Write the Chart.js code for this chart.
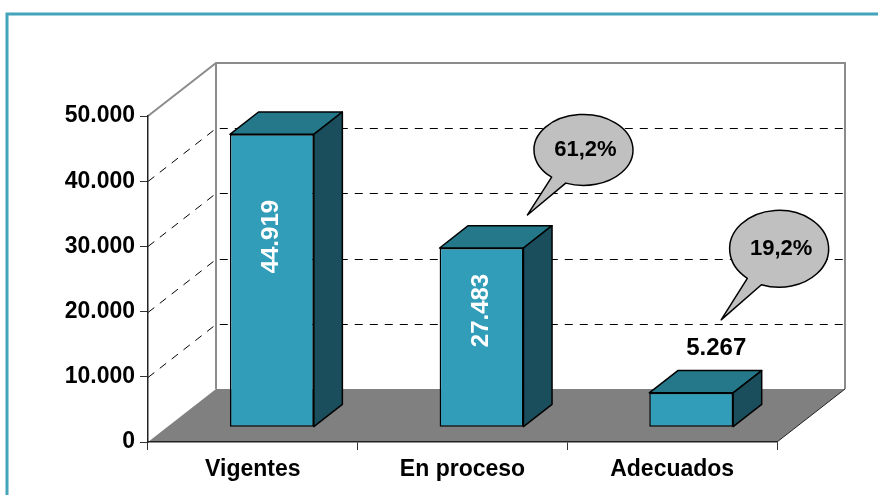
<!DOCTYPE html>
<html>
<head>
<meta charset="utf-8">
<script src="https://cdn.jsdelivr.net/npm/chart.js@4"></script>
<style>
  html, body { margin: 0; padding: 0; background: #fff; }
  #wrap { width: 878px; height: 495px; position: relative; }
</style>
</head>
<body>
<div id="wrap"><canvas id="chart" width="878" height="495"></canvas></div>
<script>
// datos
const categories = ['Vigentes', 'En proceso', 'Adecuados'];
const values = [44919, 27483, 5267];
const percentLabels = [null, '61,2%', '19,2%'];
const yTicks = [0, 10000, 20000, 30000, 40000, 50000];

const FONT = "'Liberation Sans', Arial, sans-serif";
const DX = 68, DY = 53;          // profundidad del piso
const Z0 = 0.28, Z1 = 0.70;      // posición de las barras en la profundidad
const FRONT = '#319DB8', TOP = '#25788A', SIDE = '#1A4E5C';

// globos (desplazamientos respecto a la esquina superior derecha de la barra)
const callouts = [
  null,
  { tip: [4, -33], c: [60, -98], rx: 49.5, ry: 35.5 },
  { tip: [-12, -73], c: [46, -144], rx: 49.5, ry: 38.5 }
];

const fmt = (n) => String(n).replace(/\B(?=(\d{3})+(?!\d))/g, '.');

const box3d = {
  id: 'box3d',
  beforeDraw(chart) {
    const ctx = chart.ctx;
    const { left: L, right: R, top: T, bottom: B } = chart.chartArea;
    const yScale = chart.scales.y;
    ctx.save();
    // marco
    ctx.strokeStyle = '#45A4BC';
    ctx.lineWidth = 3;
    ctx.strokeRect(7, 14, 900, 600);

    // líneas de división (pared lateral y pared del fondo)
    ctx.strokeStyle = '#000';
    ctx.lineWidth = 1;
    ctx.setLineDash([8, 7]);
    yTicks.slice(1, -1).forEach(v => {
      const y = Math.round(yScale.getPixelForValue(v)) + 0.5;
      ctx.beginPath();
      ctx.moveTo(L, y);
      ctx.lineTo(L + DX, y - DY);
      ctx.lineTo(R + DX, y - DY);
      ctx.stroke();
    });
    ctx.setLineDash([]);

    // paredes
    ctx.strokeStyle = '#8C8C8C';
    ctx.lineWidth = 2;
    ctx.beginPath();
    ctx.moveTo(L, T);
    ctx.lineTo(L + DX, T - DY);
    ctx.lineTo(R + DX, T - DY);
    ctx.lineTo(R + DX, B - DY);
    ctx.moveTo(L + DX, T - DY);
    ctx.lineTo(L + DX, B - DY);
    ctx.stroke();

    // piso
    ctx.fillStyle = '#808080';
    ctx.beginPath();
    ctx.moveTo(L, B);
    ctx.lineTo(R, B);
    ctx.lineTo(R + DX, B - DY);
    ctx.lineTo(L + DX, B - DY);
    ctx.closePath();
    ctx.fill();
    ctx.strokeStyle = '#222';
    ctx.lineWidth = 1;
    ctx.beginPath();
    ctx.moveTo(R, B);
    ctx.lineTo(R + DX, B - DY);
    ctx.stroke();
    ctx.restore();
  },
  beforeDatasetsDraw(chart) {
    chart.ctx.save();
    chart.ctx.translate(DX * Z0, -DY * Z0);
  },
  afterDatasetsDraw(chart) {
    const ctx = chart.ctx;
    ctx.restore();
    const meta = chart.getDatasetMeta(0);
    const sx = DX * Z0, sy = DY * Z0;
    const dx = DX * (Z1 - Z0), dy = DY * (Z1 - Z0);
    ctx.save();
    ctx.strokeStyle = '#000';
    ctx.lineWidth = 1.5;
    ctx.lineJoin = 'round';
    meta.data.forEach((bar, i) => {
      const p = bar.getProps(['x', 'y', 'base', 'width'], true);
      const x0 = p.x - p.width / 2 + sx, x1 = p.x + p.width / 2 + sx;
      const y0 = p.y - sy, yb = p.base - sy;
      // cara superior
      ctx.fillStyle = TOP;
      ctx.beginPath();
      ctx.moveTo(x0, y0); ctx.lineTo(x1, y0);
      ctx.lineTo(x1 + dx, y0 - dy); ctx.lineTo(x0 + dx, y0 - dy);
      ctx.closePath(); ctx.fill(); ctx.stroke();
      // cara lateral
      ctx.fillStyle = SIDE;
      ctx.beginPath();
      ctx.moveTo(x1, y0); ctx.lineTo(x1 + dx, y0 - dy);
      ctx.lineTo(x1 + dx, yb - dy); ctx.lineTo(x1, yb);
      ctx.closePath(); ctx.fill(); ctx.stroke();

      // etiqueta de valor
      const h = yb - y0;
      const cx = (x0 + x1) / 2;
      if (h > 100) {
        ctx.save();
        ctx.translate(cx, y0 + h * 0.35);
        ctx.rotate(-Math.PI / 2);
        ctx.fillStyle = '#fff';
        ctx.font = 'bold 24px ' + FONT;
        ctx.textAlign = 'center';
        ctx.textBaseline = 'middle';
        ctx.fillText(fmt(values[i]), 0, 0);
        ctx.restore();
      } else {
        ctx.fillStyle = '#000';
        ctx.font = 'bold 24px ' + FONT;
        ctx.textAlign = 'center';
        ctx.textBaseline = 'middle';
        ctx.fillText(fmt(values[i]), cx + 25, y0 - 44);
      }

      // globo con porcentaje
      const co = callouts[i];
      if (co && percentLabels[i]) {
        const ex = x1 + co.c[0], ey = y0 + co.c[1];
        const tx = x1 + co.tip[0], ty = y0 + co.tip[1];
        const a1 = 130 * Math.PI / 180, a2 = 111 * Math.PI / 180;
        ctx.beginPath();
        ctx.ellipse(ex, ey, co.rx, co.ry, 0, a1, a2 + Math.PI * 2);
        ctx.lineTo(tx, ty);
        ctx.closePath();
        ctx.fillStyle = '#C0C0C0';
        ctx.fill();
        ctx.lineWidth = 1.5;
        ctx.stroke();
        ctx.fillStyle = '#000';
        ctx.font = 'bold 22px ' + FONT;
        ctx.textAlign = 'center';
        ctx.textBaseline = 'middle';
        ctx.fillText(percentLabels[i], ex + 2, ey);
      }
    });
    ctx.restore();
  }
};

new Chart(document.getElementById('chart'), {
  type: 'bar',
  data: {
    labels: categories,
    datasets: [{
      data: values,
      backgroundColor: FRONT,
      borderColor: '#000',
      borderWidth: 1.5,
      borderSkipped: false,
      barPercentage: 0.5,
      categoryPercentage: 0.8
    }]
  },
  options: {
    responsive: false,
    animation: false,
    layout: { padding: { left: 0, top: 116, right: 101, bottom: 0 } },
    plugins: { legend: { display: false }, tooltip: { enabled: false } },
    scales: {
      x: {
        afterFit: (s) => { s.height = 53; },
        grid: { display: true, drawOnChartArea: false, drawTicks: true, tickLength: 8, color: '#333', offset: true },
        border: { display: true, color: '#222', width: 1.5 },
        ticks: { color: '#000', padding: 6, font: { family: FONT, size: 23, weight: 'bold' } }
      },
      y: {
        min: 0,
        max: 50000,
        afterFit: (s) => { s.width = 148; },
        afterBuildTicks: (s) => { s.ticks = yTicks.map(v => ({ value: v })); },
        grid: { display: true, drawOnChartArea: false, drawTicks: true, tickLength: 8, color: '#333' },
        border: { display: true, color: '#222', width: 1.5 },
        ticks: {
          color: '#000', padding: 5,
          font: { family: FONT, size: 23, weight: 'bold' },
          callback: (v) => fmt(v)
        }
      }
    }
  },
  plugins: [box3d]
});
</script>
</body>
</html>
